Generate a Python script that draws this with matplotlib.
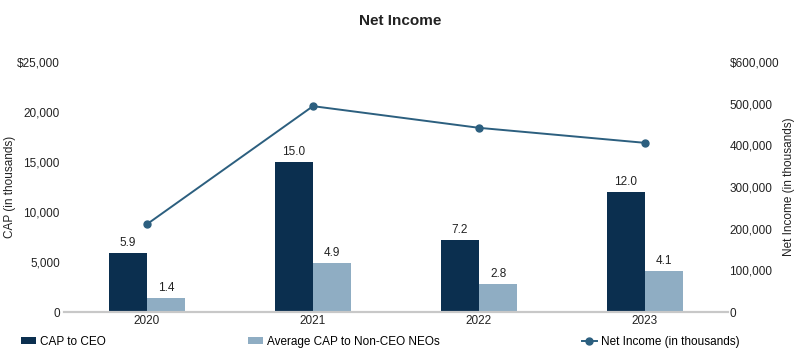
import numpy as np
import matplotlib.pyplot as plt
from matplotlib.ticker import FuncFormatter

plt.rcParams['font.family'] = ['Liberation Sans', 'DejaVu Sans']

years = ['2020', '2021', '2022', '2023']
cap_ceo = [5900, 15000, 7200, 12000]
cap_neo = [1400, 4900, 2800, 4100]
ceo_labels = ['5.9', '15.0', '7.2', '12.0']
neo_labels = ['1.4', '4.9', '2.8', '4.1']
net_income = [211000, 494000, 442000, 406000]

c_ceo = '#0b2f4f'
c_neo = '#8fadc3'
c_line = '#2c5f7f'
c_text = '#222222'

fig = plt.figure(figsize=(8, 3.58), dpi=100)
ax = fig.add_axes([0.08, 0.128, 0.83, 0.699])
ax2 = ax.twinx()

x = np.arange(len(years))
w = 0.23
b1 = ax.bar(x - w/2, cap_ceo, w, color=c_ceo, label='CAP to CEO')
b2 = ax.bar(x + w/2, cap_neo, w, color=c_neo, label='Average CAP to Non-CEO NEOs')
for rect, lab in zip(b1, ceo_labels):
    ax.text(rect.get_x() + rect.get_width()/2, rect.get_height() + 400, lab,
            ha='center', va='bottom', fontsize=8.5, color=c_text)
for rect, lab in zip(b2, neo_labels):
    ax.text(rect.get_x() + rect.get_width()/2, rect.get_height() + 400, lab,
            ha='center', va='bottom', fontsize=8.5, color=c_text)

ln, = ax2.plot(x, net_income, color=c_line, lw=1.4, marker='o', ms=5,
               label='Net Income (in thousands)')

ax.set_xlim(-0.5, 3.5)
ax.set_ylim(0, 25000)
ax2.set_ylim(0, 600000)
ax.set_yticks(np.arange(0, 25001, 5000))
ax2.set_yticks(np.arange(0, 600001, 100000))
ax.yaxis.set_major_formatter(FuncFormatter(lambda v, p: '$25,000' if v == 25000 else f'{v:,.0f}'))
ax2.yaxis.set_major_formatter(FuncFormatter(lambda v, p: '$600,000' if v == 600000 else f'{v:,.0f}'))
ax.set_xticks(x)
ax.set_xticklabels(years)

for a in (ax, ax2):
    for s in ('top', 'left', 'right'):
        a.spines[s].set_visible(False)
    a.spines['bottom'].set_color('#c8c8c8')
    a.spines['bottom'].set_linewidth(1.5)
    a.tick_params(length=0, labelsize=8.5, colors=c_text)
ax.tick_params(axis='y', pad=3)
ax2.tick_params(axis='y', pad=1)
ax.tick_params(axis='x', pad=2)

ax.set_ylabel('CAP (in thousands)', fontsize=8.5, color=c_text)
ax2.set_ylabel('Net Income (in thousands)', fontsize=8.5, color=c_text)
ax.yaxis.set_label_coords(-0.072, 0.5)
ax2.yaxis.set_label_coords(1.083, 0.5)

fig.suptitle('Net Income', x=0.5, y=0.96, fontsize=11, fontweight='bold', color=c_text)

fig.legend([b1, b2, ln], ['CAP to CEO', 'Average CAP to Non-CEO NEOs', 'Net Income (in thousands)'],
           loc='center', bbox_to_anchor=(0.02, 0.02, 0.91, 0.05), mode='expand', ncol=3,
           frameon=False, fontsize=8.5, handlelength=1.3, handletextpad=0.3,
           handleheight=0.6, borderaxespad=0)

fig.savefig('out.png', dpi=100)
